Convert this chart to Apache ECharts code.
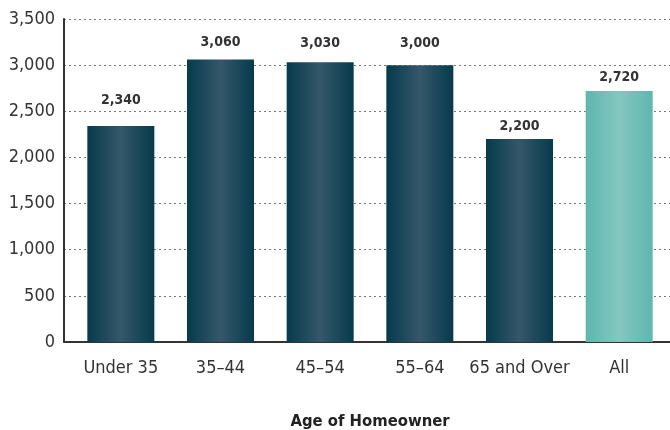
<!DOCTYPE html>
<html>
<head>
<meta charset="UTF-8" />
<title>Age of Homeowner</title>
<script src="https://cdn.jsdelivr.net/npm/echarts@6/dist/echarts.min.js"></script>
</head>
<body style="margin:0">
<div id="main" style="width:670px;height:430px;"></div>
<script type="text/javascript">
    // categories and values
    var categories = ['Under 35', '35–44', '45–54', '55–64', '65 and Over', 'All'];
    var values = [2340, 3060, 3030, 3000, 2200, 2720];
    var yTicks = [0, 500, 1000, 1500, 2000, 2500, 3000, 3500];

    // gap between bar top and its value label (px), placed by hand in the original
    var labelGaps = [19, 10, 12, 15, 6, 7];

    var fontName = "'Liberation Sans Narrow', 'DejaVu Sans Condensed', 'Roboto', sans-serif";

    function barGradient(edge, mid) {
        return new echarts.graphic.LinearGradient(0, 0, 1, 0, [
            { offset: 0, color: edge },
            { offset: 0.5, color: mid },
            { offset: 1, color: edge }
        ]);
    }

    var barData = values.map(function (v, i) {
        var isAll = categories[i] === 'All';
        return {
            value: v,
            label: { distance: labelGaps[i] },
            itemStyle: {
                color: isAll ? barGradient('#5db7af', '#84c7c0') : barGradient('#053b4c', '#355769')
            }
        };
    });

    var option = {
        animation: false,
        grid: [
            { left: 64, right: 0, top: 19, bottom: 88, outerBoundsMode: 'none' },
            { left: 71, right: 1, top: 19, bottom: 88, outerBoundsMode: 'none' }
        ],
        xAxis: [
            {
                gridIndex: 0, type: 'value', min: 0, max: 1,
                axisLine: { show: true, onZero: false, lineStyle: { color: '#333', width: 2 } },
                axisTick: { show: false }, axisLabel: { show: false }, splitLine: { show: false }
            },
            {
                gridIndex: 1, type: 'category', data: categories,
                axisLine: { show: false }, axisTick: { show: false },
                axisLabel: { interval: 0, margin: 17, fontSize: 18, color: '#333', fontFamily: fontName },
                name: 'Age of Homeowner', nameLocation: 'middle', nameGap: 71,
                nameTextStyle: { fontSize: 16.5, fontWeight: 'bold', color: '#222', fontFamily: fontName }
            }
        ],
        yAxis: [
            {
                gridIndex: 0, type: 'value', min: yTicks[0], max: yTicks[yTicks.length - 1], interval: 500,
                axisLine: { show: true, lineStyle: { color: '#333', width: 2 } },
                axisTick: { show: false },
                axisLabel: {
                    margin: 9, fontSize: 18, color: '#333', fontFamily: fontName,
                    formatter: function (v) { return v.toLocaleString('en-US'); }
                },
                splitLine: { show: true, lineStyle: { color: '#777', type: [2, 3], width: 1 } }
            },
            {
                gridIndex: 1, type: 'value', min: yTicks[0], max: yTicks[yTicks.length - 1], interval: 500,
                show: false
            }
        ],
        series: [{
            type: 'bar',
            xAxisIndex: 1,
            yAxisIndex: 1,
            barWidth: 67,
            data: barData,
            label: {
                show: true, position: 'top',
                fontSize: 14, fontWeight: 'bold', color: '#333', fontFamily: fontName,
                formatter: function (p) { return p.value.toLocaleString('en-US'); }
            }
        }]
    };

    var myChart = echarts.init(document.getElementById('main'));
    myChart.setOption(option);
</script>
</body>
</html>
